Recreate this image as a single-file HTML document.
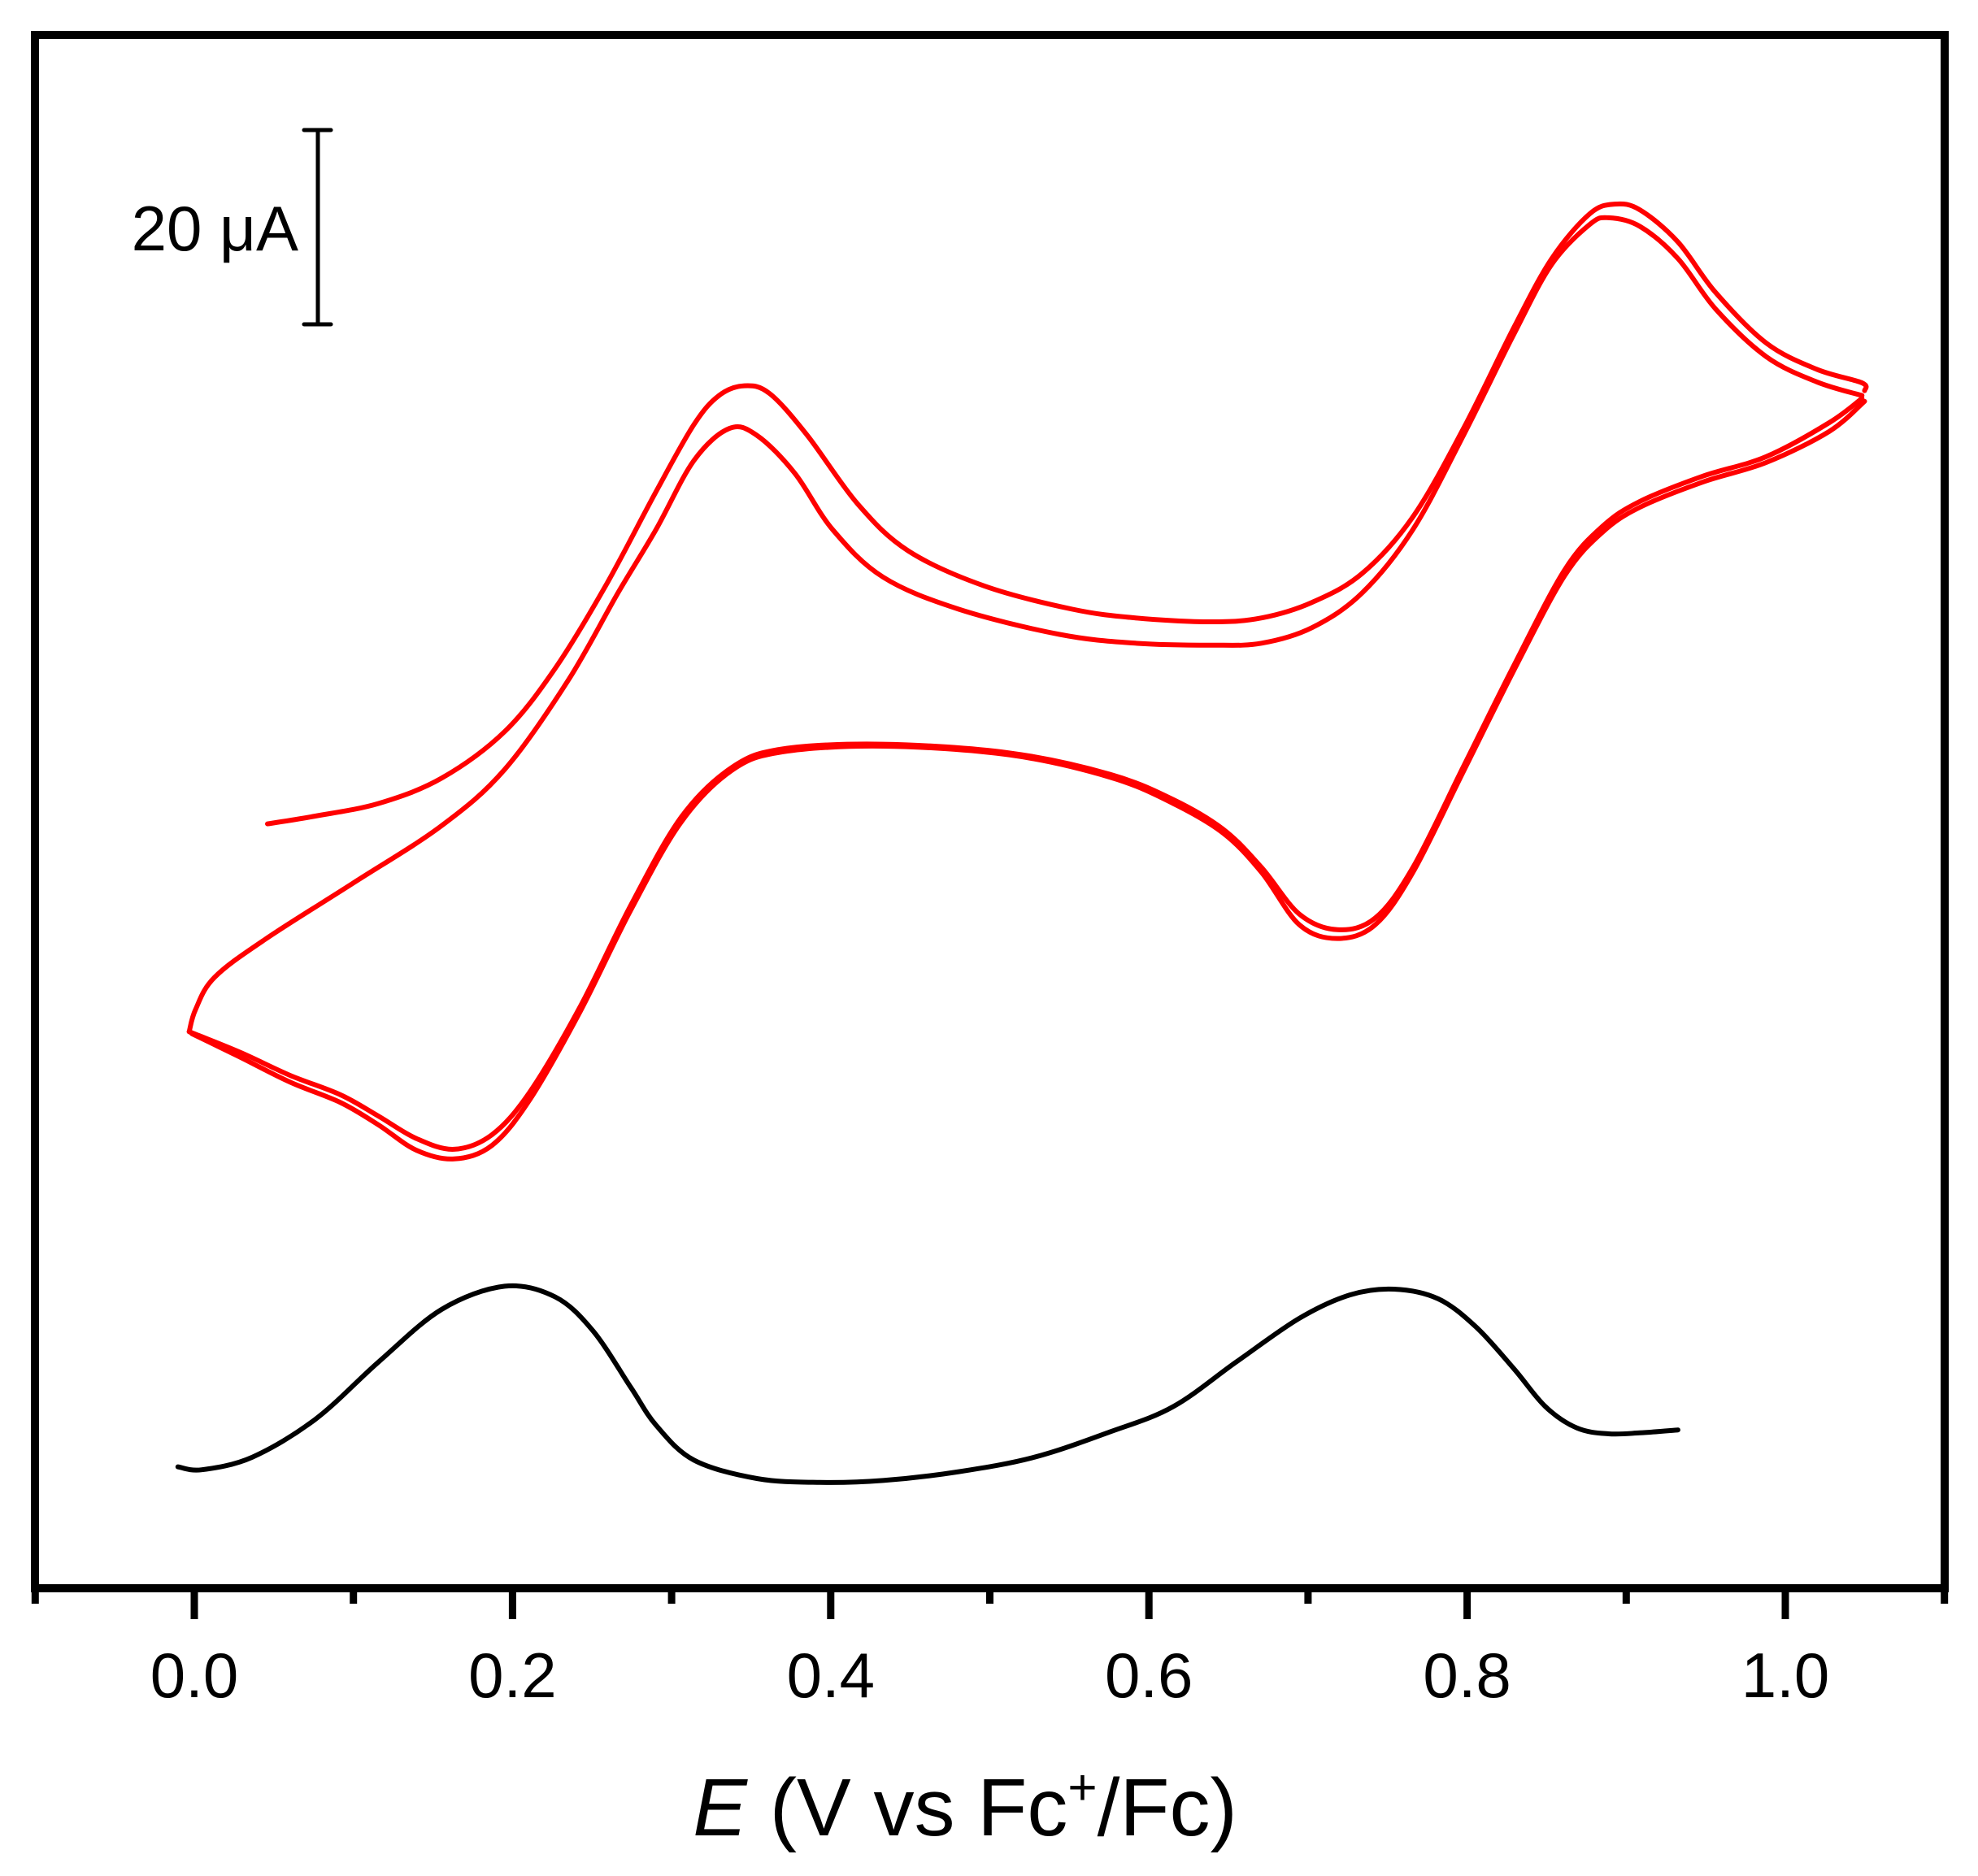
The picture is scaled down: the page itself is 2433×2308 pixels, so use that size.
<!DOCTYPE html>
<html><head><meta charset="utf-8"><style>
html,body{margin:0;padding:0;background:#fff;}
svg{display:block;font-family:"Liberation Sans",sans-serif;}
</style></head><body>
<svg id="chart" width="2433" height="2308" viewBox="0 0 2433 2308" xmlns="http://www.w3.org/2000/svg">
<rect x="0" y="0" width="2433" height="2308" fill="#fff"/>
<g id="plot"></g>
<rect x="43" y="43" width="2349" height="1911" fill="none" stroke="#000" stroke-width="10"/>
<g id="xaxis"></g>
<g stroke="#000" stroke-width="5" stroke-linecap="round">
<line x1="391" y1="160" x2="391" y2="399"/>
<line x1="374" y1="160" x2="407" y2="160"/>
<line x1="374" y1="399" x2="407" y2="399"/>
</g>
<text x="367" y="308" font-size="78" text-anchor="end">20 μA</text>
<text x="1187" y="2258" font-size="100" text-anchor="middle"><tspan font-style="italic">E</tspan> (V vs Fc<tspan dy="-38" font-size="62">+</tspan><tspan dy="38">/Fc)</tspan></text>
</svg>
<script>
const tickValues=[0.0,0.2,0.4,0.6,0.8,1.0];
const tickLabels=["0.0","0.2","0.4","0.6","0.8","1.0"];
const minorTicks=[-0.1,0.1,0.3,0.5,0.7,0.9,1.1];
const blackE=[-0.0103,0.0048,0.0365,0.0761,0.1158,0.1554,0.1951,0.2268,0.2506,0.2743,0.2902,0.314,0.3536,0.3933,0.4329,0.4805,0.5281,0.5756,0.6153,0.6549,0.6946,0.7263,0.754,0.7818,0.8056,0.8294,0.8492,0.869,0.8889,0.9087,0.9325];
const blackI=[4.8,4.5,5.8,9.7,15.6,21.0,23.4,22.3,18.8,13.0,9.1,5.5,3.6,3.2,3.4,4.3,5.8,8.4,11.0,15.6,20.1,22.5,23.1,22.1,19.2,14.9,11.0,8.8,8.2,8.3,8.6];
const fwd1E=[0.046,0.0761,0.1158,0.1554,0.1951,0.2268,0.2585,0.2902,0.314,0.3298,0.3457,0.3616,0.3853,0.4171,0.4488,0.4964,0.5519,0.5915,0.6391,0.6708,0.7025,0.7342,0.7659,0.7977,0.8294,0.8532,0.877,0.8928,0.9087,0.9325,0.9562,0.988,1.0197,1.0482,1.0498];
const fwd1I=[71.0,71.8,73.1,75.7,80.5,87.0,95.5,105.2,112.1,115.1,116.1,115.3,111.0,103.9,99.1,95.5,93.1,92.2,91.8,92.2,93.8,96.8,102.6,111.7,122.1,129.2,133.8,134.8,134.2,130.9,125.7,120.5,117.8,116.4,115.6];
const rev1E=[1.0482,1.0276,0.988,0.9483,0.9087,0.8849,0.8611,0.8294,0.7977,0.7659,0.7422,0.7184,0.6946,0.6708,0.647,0.6153,0.5756,0.5122,0.4329,0.3695,0.3378,0.3061,0.2743,0.2426,0.2109,0.1871,0.1633,0.1396,0.1158,0.092,0.0603,0.0285,-0.0032];
const rev1I=[114.8,112.3,108.8,106.8,104.2,101.6,97.1,87.3,76.9,66.5,61.3,60.1,61.7,66.5,70.4,73.5,76.1,78.3,79.2,78.7,76.8,71.7,62.6,52.2,43.4,39.0,37.5,38.6,40.9,43.1,45.1,47.5,49.6];
const fwd2E=[-0.0032,0.0008,0.0127,0.0444,0.0999,0.1554,0.1951,0.2347,0.2664,0.2902,0.314,0.3362,0.3536,0.3774,0.4012,0.4329,0.4805,0.5439,0.5915,0.6391,0.6708,0.7025,0.7342,0.7659,0.7977,0.8294,0.8532,0.877,0.8889,0.9087,0.9325,0.9562,0.988,1.0197,1.0482];
const fwd2I=[49.6,51.9,55.2,59.1,64.9,70.8,76.6,85.7,94.8,101.3,108.4,111.7,111.0,107.1,101.3,96.4,93.1,90.5,89.6,89.4,89.6,91.2,94.8,101.3,111.0,121.4,128.6,132.7,133.4,132.5,129.2,124.0,119.1,116.5,115.1];
const rev2E=[1.0498,1.0276,0.988,0.9483,0.9087,0.8849,0.8611,0.8294,0.7977,0.7659,0.7422,0.7184,0.6946,0.6708,0.647,0.6153,0.5756,0.5122,0.4329,0.3695,0.3378,0.3061,0.2743,0.2426,0.2109,0.1871,0.1633,0.1396,0.1158,0.092,0.0603,0.0285,-0.0016];
const rev2I=[114.5,111.4,108.2,106.2,103.6,101.0,96.5,86.8,76.4,66.0,60.6,59.2,60.6,66.0,70.0,73.1,75.8,78.1,79.0,78.4,76.5,71.2,62.1,51.7,42.6,37.9,36.5,37.4,40.0,42.3,44.4,47.0,49.4];

const NS="http://www.w3.org/2000/svg";
function xScale(e){return 239+e*1957;}
function yScale(i){return 1862-i*11.95;}
function smoothPath(E,I){
  const p=E.map((e,k)=>[xScale(e),yScale(I[k])]);
  let d="M"+p[0][0].toFixed(1)+" "+p[0][1].toFixed(1);
  for(let k=0;k<p.length-1;k++){
    const p0=p[Math.max(0,k-1)],p1=p[k],p2=p[k+1],p3=p[Math.min(p.length-1,k+2)];
    const c1x=p1[0]+(p2[0]-p0[0])/6,c1y=p1[1]+(p2[1]-p0[1])/6;
    const c2x=p2[0]-(p3[0]-p1[0])/6,c2y=p2[1]-(p3[1]-p1[1])/6;
    d+=" C"+c1x.toFixed(1)+" "+c1y.toFixed(1)+" "+c2x.toFixed(1)+" "+c2y.toFixed(1)+" "+p2[0].toFixed(1)+" "+p2[1].toFixed(1);
  }
  return d;
}
const plot=document.getElementById('plot');
function addLine(E,I,color,w,name){
  const el=document.createElementNS(NS,'path');
  el.setAttribute('d',smoothPath(E,I));
  el.setAttribute('fill','none');
  el.setAttribute('stroke',color);
  el.setAttribute('stroke-width',w);
  el.setAttribute('stroke-linejoin','round');
  el.setAttribute('stroke-linecap','round');
  
  
  plot.appendChild(el);
}
addLine(fwd1E,fwd1I,'#ff0000',6,'cv-forward-scan-1');
addLine(rev1E,rev1I,'#ff0000',6,'cv-reverse-scan-1');
addLine(fwd2E,fwd2I,'#ff0000',6,'cv-forward-scan-2');
addLine(rev2E,rev2I,'#ff0000',6,'cv-reverse-scan-2');
addLine(blackE,blackI,'#000000',6,'dpv-curve');

const xa=document.getElementById('xaxis');
tickValues.forEach((v,k)=>{
  const l=document.createElementNS(NS,'line');
  l.setAttribute('x1',xScale(v));l.setAttribute('x2',xScale(v));
  l.setAttribute('y1',1954);l.setAttribute('y2',1992);
  l.setAttribute('stroke','#000');l.setAttribute('stroke-width',9);
  
  
  xa.appendChild(l);
  const t=document.createElementNS(NS,'text');
  t.setAttribute('x',xScale(v));t.setAttribute('y',2088);
  t.setAttribute('font-size',78);t.setAttribute('text-anchor','middle');
  t.textContent=tickLabels[k];
  
  
  xa.appendChild(t);
});
minorTicks.forEach(v=>{
  const l=document.createElementNS(NS,'line');
  l.setAttribute('x1',xScale(v));l.setAttribute('x2',xScale(v));
  l.setAttribute('y1',1954);l.setAttribute('y2',1973);
  l.setAttribute('stroke','#000');l.setAttribute('stroke-width',9);
  
  
  xa.appendChild(l);
});
</script>
</body></html>
